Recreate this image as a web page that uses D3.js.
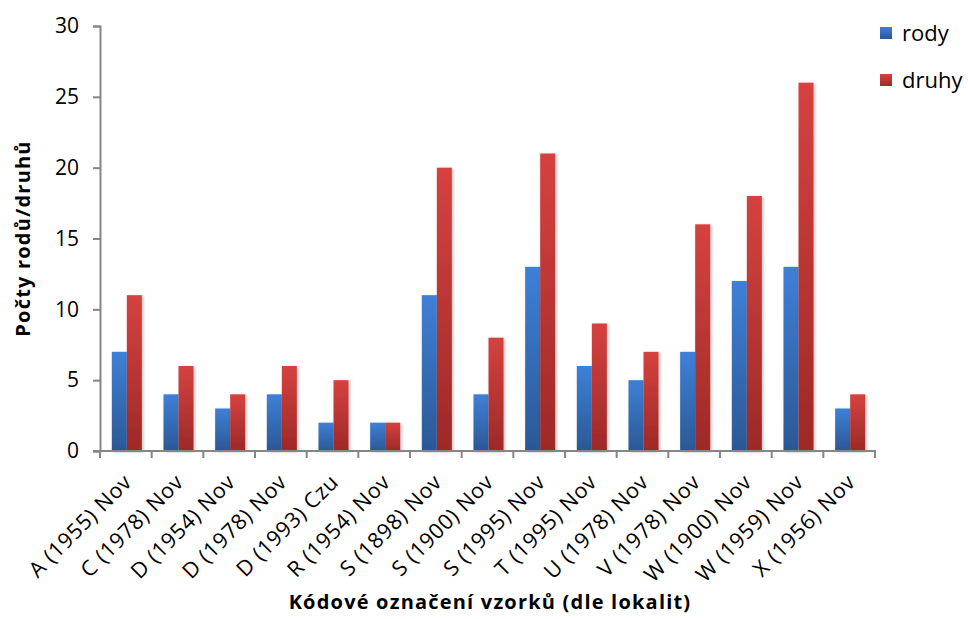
<!DOCTYPE html>
<html>
<head>
<meta charset="utf-8">
<script src="https://cdn.jsdelivr.net/npm/d3@7"></script>
<style>
  html, body { margin: 0; padding: 0; background: #fff; }
  svg { display: block; font-family: "Open Sans", sans-serif; }
</style>
</head>
<body>
<svg id="chart" width="968" height="619"></svg>
<script>
const categories = [
  "A (1955) Nov", "C (1978) Nov", "D (1954) Nov", "D (1978) Nov", "D (1993) Czu",
  "R (1954) Nov", "S (1898) Nov", "S (1900) Nov", "S (1995) Nov", "T (1995) Nov",
  "U (1978) Nov", "V (1978) Nov", "W (1900) Nov", "W (1959) Nov", "X (1956) Nov"
];
const rody  = [7, 4, 3, 4, 2, 2, 11, 4, 13, 6, 5, 7, 12, 13, 3];
const druhy = [11, 6, 4, 6, 5, 2, 20, 8, 21, 9, 7, 16, 18, 26, 4];
const seriesNames = ["rody", "druhy"];
const yTicks = [0, 5, 10, 15, 20, 25, 30];

const FONT = "'Open Sans', sans-serif";
const svg = d3.select("#chart");
const margin = { left: 100, right: 93, top: 26, bottom: 168 };
const W = 968, H = 619;
const x0 = margin.left, x1 = W - margin.right;
const y0 = H - margin.bottom, y1 = margin.top;

const x = d3.scaleBand().domain(categories).range([x0, x1]).paddingInner(0).paddingOuter(0);
const xs = d3.scaleBand().domain(seriesNames).range([1, x.bandwidth() + 1]).paddingInner(0).paddingOuter(0.72);
const y = d3.scaleLinear().domain([0, 30]).range([y0, y1]);

const defs = svg.append("defs");
const grads = {
  rody: ["#3e80d8", "#2b5895"],
  druhy: ["#d5423f", "#9d2927"]
};
Object.entries(grads).forEach(([k, c]) => {
  const g = defs.append("linearGradient").attr("id", "g-" + k)
    .attr("x1", 0).attr("y1", 0).attr("x2", 0).attr("y2", 1);
  g.append("stop").attr("offset", "0%").attr("stop-color", c[0]);
  g.append("stop").attr("offset", "100%").attr("stop-color", c[1]);
});
const f = defs.append("filter").attr("id", "shadow")
  .attr("x", "-40%").attr("y", "-10%").attr("width", "180%").attr("height", "120%");
f.append("feDropShadow").attr("dx", 1.5).attr("dy", 1).attr("stdDeviation", 1.8)
  .attr("flood-color", "#000").attr("flood-opacity", 0.25);

// bars
const rows = categories.map((c, i) => ({ c, rody: rody[i], druhy: druhy[i] }));
const groups = svg.append("g").selectAll("g").data(rows).join("g")
  .attr("transform", d => `translate(${x(d.c)},0)`);
groups.selectAll("rect")
  .data(d => seriesNames.map(s => ({ s, v: d[s] })))
  .join("rect")
  .attr("x", d => xs(d.s))
  .attr("width", xs.bandwidth())
  .attr("y", d => y(d.v))
  .attr("height", d => y(0) - y(d.v))
  .attr("fill", d => `url(#g-${d.s})`)
  .attr("filter", "url(#shadow)");

// y axis
const yAxis = d3.axisLeft(y).tickValues(yTicks).tickSize(7).tickPadding(14);
const gy = svg.append("g").attr("transform", `translate(${x0},0)`).call(yAxis);
gy.select(".domain").attr("stroke", "#868686").attr("stroke-width", 2);
gy.selectAll(".tick line").attr("stroke", "#868686").attr("stroke-width", 2);
gy.selectAll(".tick text").attr("font-size", 21).attr("fill", "#000")
  .attr("font-family", FONT);

// x axis
const boundaries = categories.map(c => x(c)).concat([x1]);
const gx = svg.append("g");
gx.append("line").attr("x1", x0 - 7).attr("x2", x1 + 1).attr("y1", y0).attr("y2", y0)
  .attr("stroke", "#868686").attr("stroke-width", 2);
gx.selectAll("line.tk").data(boundaries).join("line").attr("class", "tk")
  .attr("x1", d => d).attr("x2", d => d).attr("y1", y0).attr("y2", y0 + 7)
  .attr("stroke", "#868686").attr("stroke-width", 2);
gx.selectAll("text").data(categories).join("text")
  .attr("transform", c => `translate(${x(c) + x.bandwidth() / 2 + 2},${y0 + 27}) rotate(-45)`)
  .attr("text-anchor", "end")
  .attr("dy", "0.35em")
  .attr("font-size", 21.5)
  .attr("letter-spacing", 0.7)
  .attr("fill", "#000")
  .text(c => c);

// axis titles
svg.append("text")
  .attr("x", 490).attr("y", 609)
  .attr("text-anchor", "middle").attr("font-size", 20).attr("font-weight", "bold")
  .attr("letter-spacing", 1.2)
  .text("Kódové označení vzorků (dle lokalit)");
svg.append("text")
  .attr("transform", `translate(30,${(y0 + y1) / 2}) rotate(-90)`)
  .attr("text-anchor", "middle").attr("font-size", 20).attr("font-weight", "bold")
  .attr("letter-spacing", 1.2)
  .text("Počty rodů/druhů");

// legend
const leg = svg.append("g").selectAll("g").data(seriesNames).join("g")
  .attr("transform", (d, i) => `translate(880,${27 + i * 47})`);
leg.append("rect").attr("width", 12).attr("height", 12).attr("fill", d => `url(#g-${d})`);
leg.append("text").attr("x", 22).attr("y", 6).attr("dy", "0.35em")
  .attr("font-size", 22).text(d => d);
</script>
</body>
</html>
